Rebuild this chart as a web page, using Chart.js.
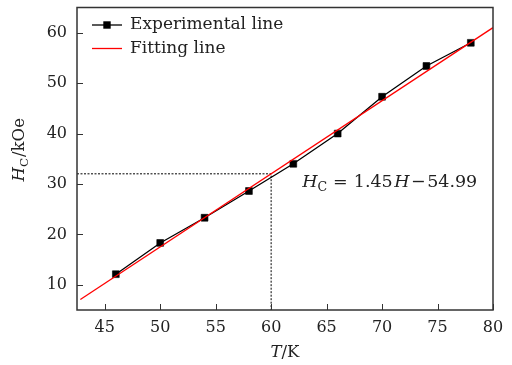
<!DOCTYPE html>
<html>
<head>
<meta charset="utf-8">
<script src="https://cdn.jsdelivr.net/npm/chart.js@4.4.0/dist/chart.umd.min.js"></script>
<style>
  html, body { margin: 0; padding: 0; background: #fff; }
  canvas { display: block; }
</style>
</head>
<body>
<canvas id="chart" width="512" height="365"></canvas>
<script>
// measured coercivity against temperature
const temperatures = [46, 50, 54, 58, 62, 66, 70, 74, 78];
const coercivity = [12.1, 18.3, 23.3, 28.6, 34.0, 40.0, 47.3, 53.4, 58.0];

// linear fit: H_C = fitSlope * T + fitIntercept
const fitSlope = 1.45;
const fitIntercept = -54.99;
const fitSpan = [42.8, 80];

// read-off of the fit at this temperature
const markerT = 60;

const xTicks = [45, 50, 55, 60, 65, 70, 75, 80];
const yTicks = [10, 20, 30, 40, 50, 60];
const xRange = [42.5, 80];
const yRange = [5, 65];

const legendLabels = ['Experimental line', 'Fitting line'];
// where the equation text sits, in data units (T, H_C)
const equationAt = [62.8, 30.3];

const FONT = '"DejaVu Serif", serif';
const INK = '#222';

const fitPoints = fitSpan.map(t => ({ x: t, y: fitSlope * t + fitIntercept }));
const markerH = fitSlope * markerT + fitIntercept;
const guidePoints = [
    { x: xRange[0], y: markerH },
    { x: markerT, y: markerH },
    { x: markerT, y: yRange[0] }
];

// draws a run of text pieces (italic / subscript) starting at x
function drawRich(ctx, parts, x, y, size, dry) {
    let cx = x;
    for (const p of parts) {
        const fs = p.sub ? size * 0.72 : size;
        ctx.font = (p.italic ? 'italic ' : '') + fs + 'px ' + FONT;
        if (!dry) ctx.fillText(p.text, cx, y + (p.sub ? size * 0.28 : 0));
        cx += ctx.measureText(p.text).width + (p.gap || 0);
    }
    return cx - x;
}

const decorations = {
    id: 'decorations',
    afterDraw(chart) {
        const ctx = chart.ctx;
        const area = chart.chartArea;
        const xs = chart.scales.x;
        const ys = chart.scales.y;
        ctx.save();

        // inward tick marks
        ctx.strokeStyle = '#333';
        ctx.lineWidth = 1;
        ctx.beginPath();
        xTicks.forEach(v => {
            const px = Math.round(xs.getPixelForValue(v)) + 0.5;
            ctx.moveTo(px, area.bottom);
            ctx.lineTo(px, area.bottom - 6);
        });
        yTicks.forEach(v => {
            const py = Math.round(ys.getPixelForValue(v)) + 0.5;
            ctx.moveTo(area.left, py);
            ctx.lineTo(area.left + 6, py);
        });
        ctx.stroke();

        // frame
        ctx.lineWidth = 1.5;
        ctx.strokeRect(area.left, area.top, area.right - area.left, area.bottom - area.top);

        ctx.fillStyle = INK;
        ctx.textBaseline = 'middle';
        ctx.textAlign = 'left';

        // legend
        const lx = area.left + 15;
        const ly = area.top + 17.5;
        ctx.lineWidth = 1.3;
        ctx.strokeStyle = '#000';
        ctx.beginPath();
        ctx.moveTo(lx, ly);
        ctx.lineTo(lx + 30, ly);
        ctx.stroke();
        ctx.fillStyle = '#000';
        ctx.fillRect(lx + 15 - 3.7, ly - 3.7, 7.4, 7.4);
        ctx.strokeStyle = '#ff0000';
        ctx.beginPath();
        ctx.moveTo(lx, ly + 23.5);
        ctx.lineTo(lx + 30, ly + 23.5);
        ctx.stroke();
        ctx.fillStyle = INK;
        ctx.font = '17px ' + FONT;
        ctx.fillText(legendLabels[0], lx + 38, ly);
        ctx.fillText(legendLabels[1], lx + 38, ly + 23.5);

        // equation of the fit
        const eq = [
            { text: 'H', italic: true },
            { text: 'C', sub: true, gap: 6 },
            { text: '=', gap: 6 },
            { text: '1.45', gap: 1.5 },
            { text: 'H', italic: true, gap: 1.5 },
            { text: '\u2212', gap: 1.5 },
            { text: '54.99' }
        ];
        drawRich(ctx, eq, xs.getPixelForValue(equationAt[0]), ys.getPixelForValue(equationAt[1]), 17.5);

        // x axis title
        const xt = [{ text: 'T', italic: true }, { text: '/K' }];
        const xw = drawRich(ctx, xt, 0, 0, 16.5, true);
        drawRich(ctx, xt, (area.left + area.right) / 2 - xw / 2, 353, 16.5);

        // y axis title
        const yt = [{ text: 'H', italic: true }, { text: 'C', sub: true, gap: 1 }, { text: '/kOe' }];
        const yw = drawRich(ctx, yt, 0, 0, 16.5, true);
        ctx.translate(20, (area.top + area.bottom) / 2 - 9);
        ctx.rotate(-Math.PI / 2);
        drawRich(ctx, yt, -yw / 2, 0, 16.5);

        ctx.restore();
    }
};

Chart.defaults.font.family = FONT;
Chart.defaults.font.size = 16;
Chart.defaults.color = INK;

new Chart(document.getElementById('chart'), {
    type: 'scatter',
    data: {
        datasets: [
            {
                label: 'guide',
                data: guidePoints,
                showLine: true,
                borderColor: '#000',
                borderWidth: 1,
                borderDash: [2, 1.5],
                pointRadius: 0,
                order: 3
            },
            {
                label: legendLabels[0],
                data: temperatures.map((t, i) => ({ x: t, y: coercivity[i] })),
                showLine: true,
                borderColor: '#000',
                borderWidth: 1.3,
                pointStyle: 'rect',
                pointRadius: 4.8,
                pointBorderWidth: 0.6,
                pointBackgroundColor: '#000',
                pointBorderColor: '#000',
                order: 2
            },
            {
                label: legendLabels[1],
                data: fitPoints,
                showLine: true,
                borderColor: '#ff0000',
                borderWidth: 1.3,
                pointRadius: 0,
                order: 1
            }
        ]
    },
    options: {
        responsive: false,
        animation: false,
        layout: { padding: { top: 7.5, right: 19, left: 0, bottom: 0 } },
        plugins: {
            legend: { display: false },
            tooltip: { enabled: false }
        },
        scales: {
            x: {
                type: 'linear',
                min: xRange[0],
                max: xRange[1],
                afterBuildTicks: s => { s.ticks = xTicks.map(v => ({ value: v })); },
                afterFit: s => { s.height = 55; s.paddingLeft = 0; s.paddingRight = 0; },
                grid: { display: false, drawTicks: false },
                border: { display: false },
                ticks: { padding: 8, color: INK, maxRotation: 0 }
            },
            y: {
                type: 'linear',
                min: yRange[0],
                max: yRange[1],
                afterBuildTicks: s => { s.ticks = yTicks.map(v => ({ value: v })); },
                afterFit: s => { s.width = 77; s.paddingTop = 0; s.paddingBottom = 0; },
                grid: { display: false, drawTicks: false },
                border: { display: false },
                ticks: { padding: 10, color: INK }
            }
        }
    },
    plugins: [decorations]
});
</script>
</body>
</html>
